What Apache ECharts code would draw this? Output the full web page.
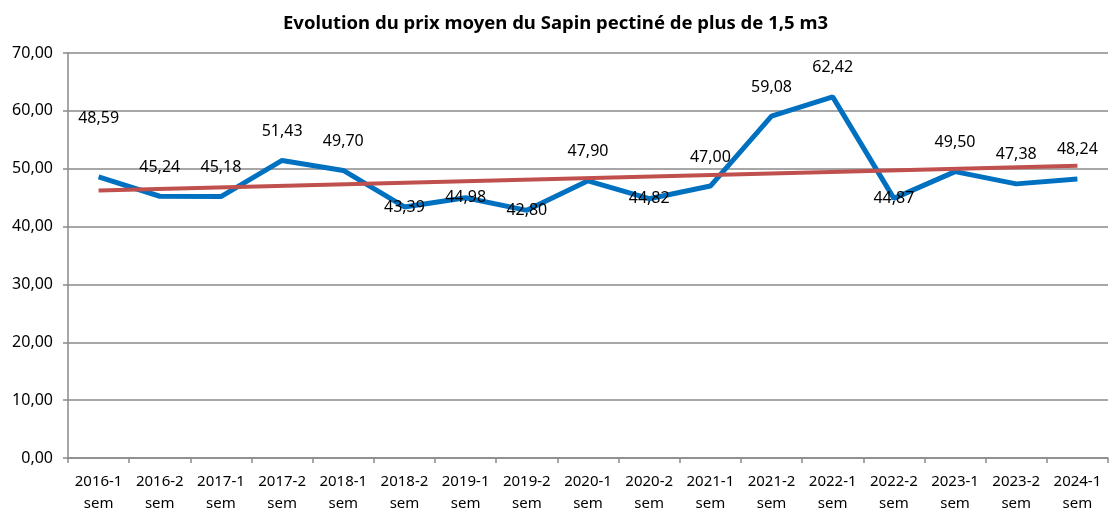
<!DOCTYPE html>
<html><head><meta charset="utf-8">
<script src="https://cdn.jsdelivr.net/npm/echarts@6/dist/echarts.min.js"></script>
<style>html,body{margin:0;padding:0;background:#fff}#c{width:1111px;height:515px}</style>
</head><body><div id="c"></div>
<script>
const titleText = "Evolution du prix moyen du Sapin pectiné de plus de 1,5 m3";
const categories = ["2016-1 sem","2016-2 sem","2017-1 sem","2017-2 sem","2018-1 sem","2018-2 sem","2019-1 sem","2019-2 sem","2020-1 sem","2020-2 sem","2021-1 sem","2021-2 sem","2022-1 sem","2022-2 sem","2023-1 sem","2023-2 sem","2024-1 sem"];
const prices = [48.59,45.24,45.18,51.43,49.70,43.39,44.98,42.80,47.90,44.82,47.00,59.08,62.42,44.87,49.50,47.38,48.24];
const trendEnds = [46.24, 50.53];
const yTicks = [0,10,20,30,40,50,60,70];

// label placement (as in the reference picture)
const labelShift = prices.map((v,i)=>{
  if (i===0) return -58;
  if ([5,6,7,9,13].includes(i)) return 0;
  return -29;
});

const fmt = v => v.toFixed(2).replace('.', ',');
const font = "'Noto Sans', sans-serif";

const chart = echarts.init(document.getElementById('c'), null, {renderer:'canvas'});
chart.setOption({
  animation:false,
  title:{text:titleText,left:'center',top:9,textStyle:{fontFamily:font,fontWeight:'bold',fontSize:18.5,color:'#000'}},
  grid:{left:68,right:3,top:53,bottom:56},
  xAxis:{type:'category',data:categories,boundaryGap:true,
    axisLine:{lineStyle:{color:'#8a8a8a',width:1.5}},
    axisTick:{show:true,length:5,lineStyle:{color:'#8a8a8a',width:1.5}},
    axisLabel:{interval:0,fontFamily:font,fontSize:15,color:'#000',lineHeight:22,margin:13,
      formatter:v=>v.replace(' ','\n')}},
  yAxis:{type:'value',min:yTicks[0],max:yTicks[yTicks.length-1],interval:10,
    axisLine:{show:true,lineStyle:{color:'#8a8a8a',width:1.5}},
    axisTick:{show:true,length:5,lineStyle:{color:'#8a8a8a',width:1.5}},
    splitLine:{lineStyle:{color:'#8a8a8a',width:1.5}},
    axisLabel:{fontFamily:font,fontSize:16,color:'#000',margin:15,formatter:v=>fmt(v)}},
  series:[
    {type:'line',data:prices.map((v,i)=>({value:v,label:{offset:[0,labelShift[i]]}})),
      showSymbol:true,symbol:'circle',symbolSize:2,itemStyle:{color:'rgba(0,0,0,0)'},
      lineStyle:{color:'#0070C0',width:5},z:2,
      label:{show:true,position:'inside',fontFamily:font,fontSize:16,color:'#000',
        formatter:p=>fmt(p.value)}},
    {type:'line',data:[[0,trendEnds[0]],[categories.length-1,trendEnds[1]]],
      showSymbol:false,lineStyle:{color:'#C0504D',width:4},z:3,silent:true}
  ]
});
</script></body></html>
